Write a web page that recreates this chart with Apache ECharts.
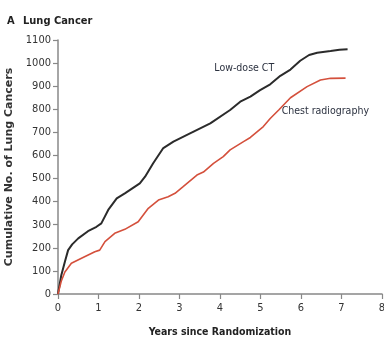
<!DOCTYPE html>
<html>
<head>
<meta charset="utf-8">
<script src="https://cdn.jsdelivr.net/npm/echarts@6/dist/echarts.min.js"></script>
<style>
html, body { margin: 0; padding: 0; background: #fff; }
#chart { width: 384px; height: 339px; }
</style>
</head>
<body>
<div id="chart"></div>
<script>
var narrow = "'Liberation Sans Narrow', 'DejaVu Sans Condensed', sans-serif";

// Low-dose CT (years, cumulative cancers)
var ctYears = [0, 0.08, 0.17, 0.25, 0.35, 0.5, 0.74, 0.95, 1.07, 1.24, 1.45, 1.65, 1.9, 2.02, 2.15, 2.35, 2.6, 2.85,
    3.26, 3.76, 4.25, 4.5, 4.75, 4.99, 5.24, 5.49, 5.74, 5.98, 6.2, 6.4, 6.73, 6.95, 7.15];
var ctCases = [0, 80, 140, 190, 215, 241, 272, 291, 306, 364, 414, 436, 465, 479, 508, 566, 632, 660,
    696, 739, 797, 833, 855, 883, 908, 945, 972, 1010, 1035, 1045, 1052, 1058, 1060];

// Chest radiography
var cxrYears = [0, 0.08, 0.17, 0.33, 0.58, 0.91, 1.03, 1.16, 1.4, 1.65, 1.98, 2.23, 2.48, 2.72, 2.89, 3.09, 3.43,
    3.59, 3.84, 4.08, 4.25, 4.58, 4.75, 5.07, 5.24, 5.45, 5.74, 6.15, 6.48, 6.73, 7.1];
var cxrCases = [0, 55, 95, 133, 155, 183, 190, 227, 263, 280, 313, 371, 407, 421, 436, 465, 515,
    528, 566, 595, 624, 660, 678, 725, 760, 797, 850, 898, 927, 934, 935];

function pairs(xs, ys) {
    return xs.map(function (x, i) { return [x, ys[i]]; });
}

var myChart = echarts.init(document.getElementById('chart'));
var option = {
    animation: false,
    title: [{
        text: 'A',
        left: 2,
        top: 11,
        textStyle: { fontFamily: narrow, fontWeight: 'bold', fontSize: 11, color: '#222' }
    }, {
        text: 'Lung Cancer',
        left: 18,
        top: 11,
        textStyle: { fontFamily: narrow, fontWeight: 'bold', fontSize: 11, color: '#222' }
    }],
    grid: { left: 58, right: 2, top: 40, bottom: 45, containLabel: false, outerBoundsMode: 'none' },
    xAxis: {
        type: 'value',
        min: 0,
        max: 8,
        interval: 1,
        name: 'Years since Randomization',
        nameLocation: 'middle',
        nameGap: 33,
        nameTextStyle: { fontFamily: narrow, fontWeight: 'bold', fontSize: 10.5, color: '#222' },
        axisLine: { lineStyle: { color: '#888', width: 1.5 } },
        axisTick: { length: 5, lineStyle: { color: '#888', width: 1.2 } },
        axisLabel: { fontFamily: narrow, fontSize: 11, color: '#333', margin: 9 },
        splitLine: { show: false }
    },
    yAxis: {
        type: 'value',
        min: 0,
        max: 1100,
        interval: 100,
        name: 'Cumulative No. of Lung Cancers',
        nameLocation: 'middle',
        nameGap: 43,
        nameTextStyle: { fontFamily: "'DejaVu Sans', sans-serif", fontWeight: 'bold', fontSize: 11, color: '#333' },
        axisLine: { show: true, lineStyle: { color: '#888', width: 1.5 } },
        axisTick: { show: true, length: 5, lineStyle: { color: '#888', width: 1.2 } },
        axisLabel: {
            fontFamily: narrow, fontSize: 11, color: '#333', margin: 7,
            formatter: function (v) { return String(v); }
        },
        splitLine: { show: false }
    },
    series: [{
        name: 'Low-dose CT',
        type: 'line',
        showSymbol: false,
        data: pairs(ctYears, ctCases),
        lineStyle: { color: '#2b2b2b', width: 2 },
        markPoint: {
            symbol: 'circle',
            symbolSize: 0,
            data: [{ coord: [4.6, 979] }],
            label: {
                show: true,
                formatter: 'Low-dose CT',
                fontFamily: narrow,
                fontSize: 10.5,
                color: '#2c3240'
            }
        }
    }, {
        name: 'Chest radiography',
        type: 'line',
        showSymbol: false,
        data: pairs(cxrYears, cxrCases),
        lineStyle: { color: '#d4503c', width: 1.6 },
        markPoint: {
            symbol: 'circle',
            symbolSize: 0,
            data: [{ coord: [6.6, 793] }],
            label: {
                show: true,
                formatter: 'Chest radiography',
                fontFamily: narrow,
                fontSize: 10.5,
                color: '#2c3240'
            }
        }
    }]
};
myChart.setOption(option);
</script>
</body>
</html>
